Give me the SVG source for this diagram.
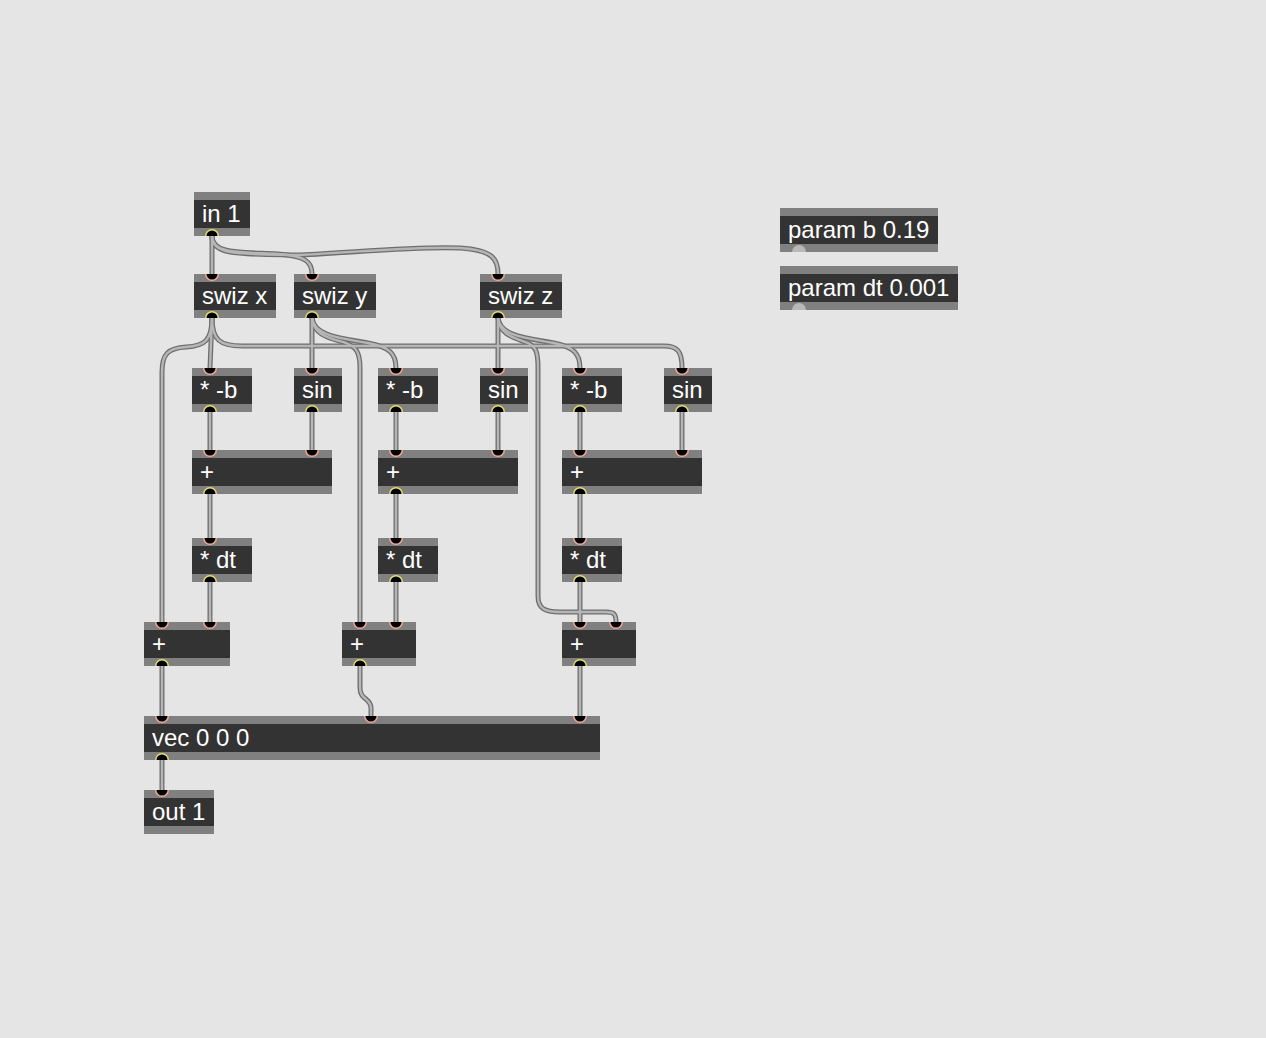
<svg xmlns="http://www.w3.org/2000/svg" xmlns:xlink="http://www.w3.org/1999/xlink" width="1266" height="1038" viewBox="0 0 1266 1038">
<style>
.band{fill:#808080}
.body{fill:#333333}
.t{font-family:"Liberation Sans",Arial,sans-serif;font-size:24px;fill:#ffffff}
.co{fill:none;stroke:#6e6e6e;stroke-width:5;stroke-linecap:round;stroke-linejoin:round}
.ci{fill:none;stroke:#b6b6b6;stroke-width:2.4;stroke-linecap:round;stroke-linejoin:round}
</style>
<defs>
<g id="inl"><path d="M-7 0 A7 7 0 0 0 7 0 Z" fill="#f0a896"/><path d="M-5.5 0 A5.5 5.5 0 0 0 5.5 0 Z" fill="#000"/></g>
<g id="outl"><path d="M-7 0 A7 7 0 0 1 7 0 Z" fill="#e4dc6a"/><path d="M-5.5 0 A5.5 5.5 0 0 1 5.5 0 Z" fill="#000"/></g>
<path id="pout" d="M-7 0 A7 7 0 0 1 7 0 Z" fill="#b8b8b8"/>
<path id="w1" d="M212 236 L212 274"/>
<path id="w2" d="M212 236 C212 254 238 252 278 254 C306 256 312 262 312 274"/>
<path id="w3" d="M212 236 C212 256 240 254 300 255 C360 252 420 246 460 248 C494 250 498 260 498 274"/>
<path id="w4" d="M212 318 L210 368"/>
<path id="w5" d="M212 318 C212 340 205 346 186 347 C168 348 162 354 162 372 L162 622"/>
<path id="w6" d="M212 318 C212 340 220 346 242 346 L664 346 C678 346 682 352 682 368"/>
<path id="w7" d="M312 318 L312 368"/>
<path id="w8" d="M312 318 C314 336 340 338 368 343 C390 347 396 354 396 368"/>
<path id="w9" d="M312 318 C314 336 330 338 346 343 C356 347 360 352 360 368 L360 622"/>
<path id="w10" d="M498 318 L498 368"/>
<path id="w11" d="M498 318 C500 336 526 338 554 343 C574 347 580 354 580 368"/>
<path id="w12" d="M498 318 C500 336 516 338 528 343 C536 347 538 352 538 368 L538 596 C538 608 544 612 560 612 L606 612 C614 612 616 614 616 622"/>
<path id="w13" d="M210 412 L210 450 M312 412 L312 450 M396 412 L396 450 M498 412 L498 450 M580 412 L580 450 M682 412 L682 450"/>
<path id="w14" d="M210 494 L210 538 M396 494 L396 538 M580 494 L580 538"/>
<path id="w15" d="M210 582 L210 622 M396 582 L396 622 M580 582 L580 622"/>
<path id="w16" d="M162 666 L162 716 M580 666 L580 716 M162 760 L162 790"/>
<path id="w17" d="M360 666 L360 688 C360 700 371 698 371 708 L371 716"/>
</defs>
<rect width="1266" height="1038" fill="#e5e5e5"/>
<g id="connectors">
<g class="co">
<use xlink:href="#w1"/><use xlink:href="#w2"/><use xlink:href="#w3"/><use xlink:href="#w4"/><use xlink:href="#w5"/><use xlink:href="#w6"/><use xlink:href="#w7"/><use xlink:href="#w8"/><use xlink:href="#w9"/><use xlink:href="#w10"/><use xlink:href="#w11"/><use xlink:href="#w12"/><use xlink:href="#w13"/><use xlink:href="#w14"/><use xlink:href="#w15"/><use xlink:href="#w16"/><use xlink:href="#w17"/>
</g>
<g class="ci">
<use xlink:href="#w1"/><use xlink:href="#w2"/><use xlink:href="#w3"/><use xlink:href="#w4"/><use xlink:href="#w5"/><use xlink:href="#w6"/><use xlink:href="#w7"/><use xlink:href="#w8"/><use xlink:href="#w9"/><use xlink:href="#w10"/><use xlink:href="#w11"/><use xlink:href="#w12"/><use xlink:href="#w13"/><use xlink:href="#w14"/><use xlink:href="#w15"/><use xlink:href="#w16"/><use xlink:href="#w17"/>
</g>
</g>
<g id="in1"><rect class="band" x="194" y="192" width="56" height="44"/><rect class="body" x="194" y="200" width="56" height="28"/><text class="t" x="202" y="222">in 1</text><use xlink:href="#outl" x="212" y="236"/></g>
<g id="swizx"><rect class="band" x="194" y="274" width="82" height="44"/><rect class="body" x="194" y="282" width="82" height="28"/><text class="t" x="202" y="304">swiz x</text><use xlink:href="#inl" x="212" y="274"/><use xlink:href="#outl" x="212" y="318"/></g>
<g id="swizy"><rect class="band" x="294" y="274" width="82" height="44"/><rect class="body" x="294" y="282" width="82" height="28"/><text class="t" x="302" y="304">swiz y</text><use xlink:href="#inl" x="312" y="274"/><use xlink:href="#outl" x="312" y="318"/></g>
<g id="swizz"><rect class="band" x="480" y="274" width="82" height="44"/><rect class="body" x="480" y="282" width="82" height="28"/><text class="t" x="488" y="304">swiz z</text><use xlink:href="#inl" x="498" y="274"/><use xlink:href="#outl" x="498" y="318"/></g>
<g id="mulb1"><rect class="band" x="192" y="368" width="60" height="44"/><rect class="body" x="192" y="376" width="60" height="28"/><text class="t" x="200" y="398">* -b</text><use xlink:href="#inl" x="210" y="368"/><use xlink:href="#outl" x="210" y="412"/></g>
<g id="sin1"><rect class="band" x="294" y="368" width="48" height="44"/><rect class="body" x="294" y="376" width="48" height="28"/><text class="t" x="302" y="398">sin</text><use xlink:href="#inl" x="312" y="368"/><use xlink:href="#outl" x="312" y="412"/></g>
<g id="mulb2"><rect class="band" x="378" y="368" width="60" height="44"/><rect class="body" x="378" y="376" width="60" height="28"/><text class="t" x="386" y="398">* -b</text><use xlink:href="#inl" x="396" y="368"/><use xlink:href="#outl" x="396" y="412"/></g>
<g id="sin2"><rect class="band" x="480" y="368" width="48" height="44"/><rect class="body" x="480" y="376" width="48" height="28"/><text class="t" x="488" y="398">sin</text><use xlink:href="#inl" x="498" y="368"/><use xlink:href="#outl" x="498" y="412"/></g>
<g id="mulb3"><rect class="band" x="562" y="368" width="60" height="44"/><rect class="body" x="562" y="376" width="60" height="28"/><text class="t" x="570" y="398">* -b</text><use xlink:href="#inl" x="580" y="368"/><use xlink:href="#outl" x="580" y="412"/></g>
<g id="sin3"><rect class="band" x="664" y="368" width="48" height="44"/><rect class="body" x="664" y="376" width="48" height="28"/><text class="t" x="672" y="398">sin</text><use xlink:href="#inl" x="682" y="368"/><use xlink:href="#outl" x="682" y="412"/></g>
<g id="add1"><rect class="band" x="192" y="450" width="140" height="44"/><rect class="body" x="192" y="458" width="140" height="28"/><text class="t" x="200" y="480">+</text><use xlink:href="#inl" x="210" y="450"/><use xlink:href="#inl" x="312" y="450"/><use xlink:href="#outl" x="210" y="494"/></g>
<g id="add2"><rect class="band" x="378" y="450" width="140" height="44"/><rect class="body" x="378" y="458" width="140" height="28"/><text class="t" x="386" y="480">+</text><use xlink:href="#inl" x="396" y="450"/><use xlink:href="#inl" x="498" y="450"/><use xlink:href="#outl" x="396" y="494"/></g>
<g id="add3"><rect class="band" x="562" y="450" width="140" height="44"/><rect class="body" x="562" y="458" width="140" height="28"/><text class="t" x="570" y="480">+</text><use xlink:href="#inl" x="580" y="450"/><use xlink:href="#inl" x="682" y="450"/><use xlink:href="#outl" x="580" y="494"/></g>
<g id="dt1"><rect class="band" x="192" y="538" width="60" height="44"/><rect class="body" x="192" y="546" width="60" height="28"/><text class="t" x="200" y="568">* dt</text><use xlink:href="#inl" x="210" y="538"/><use xlink:href="#outl" x="210" y="582"/></g>
<g id="dt2"><rect class="band" x="378" y="538" width="60" height="44"/><rect class="body" x="378" y="546" width="60" height="28"/><text class="t" x="386" y="568">* dt</text><use xlink:href="#inl" x="396" y="538"/><use xlink:href="#outl" x="396" y="582"/></g>
<g id="dt3"><rect class="band" x="562" y="538" width="60" height="44"/><rect class="body" x="562" y="546" width="60" height="28"/><text class="t" x="570" y="568">* dt</text><use xlink:href="#inl" x="580" y="538"/><use xlink:href="#outl" x="580" y="582"/></g>
<g id="acc1"><rect class="band" x="144" y="622" width="86" height="44"/><rect class="body" x="144" y="630" width="86" height="28"/><text class="t" x="152" y="652">+</text><use xlink:href="#inl" x="162" y="622"/><use xlink:href="#inl" x="210" y="622"/><use xlink:href="#outl" x="162" y="666"/></g>
<g id="acc2"><rect class="band" x="342" y="622" width="74" height="44"/><rect class="body" x="342" y="630" width="74" height="28"/><text class="t" x="350" y="652">+</text><use xlink:href="#inl" x="360" y="622"/><use xlink:href="#inl" x="396" y="622"/><use xlink:href="#outl" x="360" y="666"/></g>
<g id="acc3"><rect class="band" x="562" y="622" width="74" height="44"/><rect class="body" x="562" y="630" width="74" height="28"/><text class="t" x="570" y="652">+</text><use xlink:href="#inl" x="580" y="622"/><use xlink:href="#inl" x="616" y="622"/><use xlink:href="#outl" x="580" y="666"/></g>
<g id="vec"><rect class="band" x="144" y="716" width="456" height="44"/><rect class="body" x="144" y="724" width="456" height="28"/><text class="t" x="152" y="746">vec 0 0 0</text><use xlink:href="#inl" x="162" y="716"/><use xlink:href="#inl" x="371" y="716"/><use xlink:href="#inl" x="580" y="716"/><use xlink:href="#outl" x="162" y="760"/></g>
<g id="out1"><rect class="band" x="144" y="790" width="70" height="44"/><rect class="body" x="144" y="798" width="70" height="28"/><text class="t" x="152" y="820">out 1</text><use xlink:href="#inl" x="162" y="790"/></g>
<g id="paramb"><rect class="band" x="780" y="208" width="158" height="44"/><rect class="body" x="780" y="216" width="158" height="28"/><text class="t" x="788" y="238">param b 0.19</text><use xlink:href="#pout" x="799" y="252"/></g>
<g id="paramdt"><rect class="band" x="780" y="266" width="178" height="44"/><rect class="body" x="780" y="274" width="178" height="28"/><text class="t" x="788" y="296">param dt 0.001</text><use xlink:href="#pout" x="799" y="310"/></g>
</svg>
